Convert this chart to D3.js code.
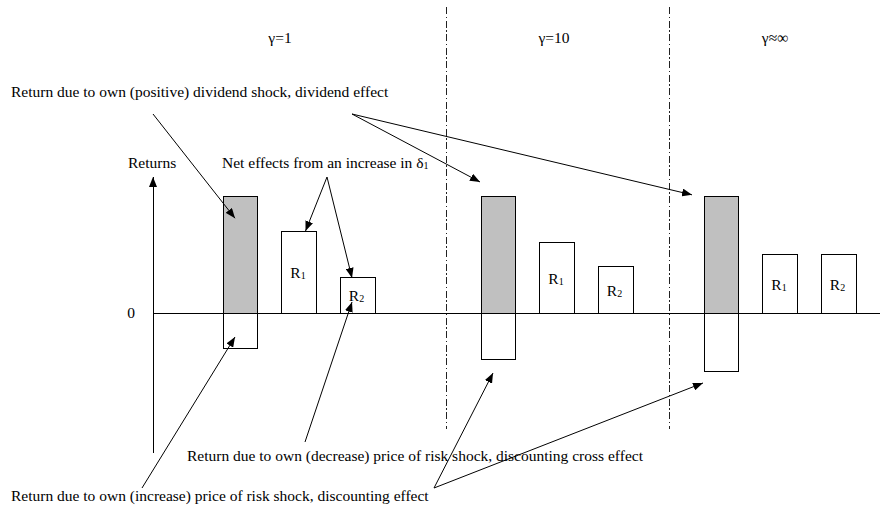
<!DOCTYPE html>
<html>
<head>
<meta charset="utf-8">
<title>Returns by risk aversion</title>
<script src="https://cdn.jsdelivr.net/npm/d3@7"></script>
<style>
  body { margin: 0; background: #fff; }
  svg { display: block; font-family: "Liberation Serif", "Times New Roman", serif; }
  .bar { stroke: #000; stroke-width: 1; shape-rendering: crispEdges; }
  .note { font-size: 15.5px; fill: #000; }
</style>
</head>
<body>
<script>
// three panels, one per risk aversion level
var gammas = ["γ=1", "γ=10", "γ≈∞"];
var dividendEffect = [10, 10, 10];     // own dividend shock (grey bar)
var discountEffect = [-3, -4, -5];     // own price of risk shock (below zero)
var netR1 = [7, 6, 5];
var netR2 = [3, 4, 5];
var slots = ["div", "R1", "R2"];

var width = 880, height = 514;
var svg = d3.select("body").append("svg").attr("width", width).attr("height", height);

var y = d3.scaleLinear().domain([0, 10]).range([313, 196]);
var groupX = d3.scaleOrdinal().domain(gammas).range([223, 481, 704]);
var inner = d3.scaleBand().domain(slots).range([0, 152]).paddingInner(0.402);

var defs = svg.append("defs");
defs.append("marker")
    .attr("id", "head")
    .attr("markerUnits", "userSpaceOnUse")
    .attr("markerWidth", 10).attr("markerHeight", 8)
    .attr("refX", 10).attr("refY", 4)
    .attr("orient", "auto")
  .append("path").attr("d", "M0,0L10,4L0,8z").attr("fill", "#000");

// bar rows
var rows = [];
gammas.forEach(function(g, i) {
    rows.push({g: g, slot: "div", v: dividendEffect[i], fill: "#c0c0c0"});
    rows.push({g: g, slot: "div", v: discountEffect[i], fill: "#fff"});
    rows.push({g: g, slot: "R1", v: netR1[i], fill: "#fff", label: "R", sub: "1"});
    rows.push({g: g, slot: "R2", v: netR2[i], fill: "#fff", label: "R", sub: "2"});
});

// panel separators
svg.selectAll(".sep")
    .data(gammas.slice(1))
  .enter().append("line")
    .attr("class", "sep")
    .attr("x1", function(g) { return groupX(g) - 34.5; })
    .attr("x2", function(g) { return groupX(g) - 34.5; })
    .attr("y1", 7).attr("y2", 429)
    .attr("stroke", "#222")
    .attr("shape-rendering", "crispEdges")
    .attr("stroke-dasharray", "7,2.5,1.5,2.5");

// panel titles
var titleOffset = d3.scaleOrdinal().domain(gammas).range([57, 73, 71]);
svg.selectAll(".title")
    .data(gammas)
  .enter().append("text")
    .attr("class", "note")
    .attr("x", function(g) { return groupX(g) + titleOffset(g); })
    .attr("y", 43)
    .attr("text-anchor", "middle")
    .text(function(g) { return g; });

// bars
svg.selectAll(".bar")
    .data(rows)
  .enter().append("rect")
    .attr("class", "bar")
    .attr("x", function(d) { return groupX(d.g) + inner(d.slot); })
    .attr("width", inner.bandwidth())
    .attr("y", function(d) { return y(Math.max(0, d.v)); })
    .attr("height", function(d) { return Math.abs(y(d.v) - y(0)); })
    .attr("fill", function(d) { return d.fill; });

var lab = svg.selectAll(".rlab")
    .data(rows.filter(function(d) { return d.label; }))
  .enter().append("text")
    .attr("class", "note")
    .attr("x", function(d) { return groupX(d.g) + inner(d.slot) + inner.bandwidth() / 2 - 1; })
    .attr("y", function(d) { return y(d.v / 2) + 6; })
    .attr("text-anchor", "middle");
lab.append("tspan").text(function(d) { return d.label; });
lab.append("tspan").attr("font-size", "10px").attr("dy", 1).text(function(d) { return d.sub; });

// zero line and returns axis
svg.append("line")
    .attr("x1", 153).attr("x2", width)
    .attr("y1", y(0)).attr("y2", y(0))
    .attr("stroke", "#000")
    .attr("shape-rendering", "crispEdges");
svg.append("line")
    .attr("x1", 153).attr("x2", 153)
    .attr("y1", y(-12)).attr("y2", y(11.63))
    .attr("stroke", "#000")
    .attr("shape-rendering", "crispEdges")
    .attr("marker-end", "url(#head)");

var axis = svg.append("g")
    .attr("transform", "translate(153,0)")
    .call(d3.axisLeft(y).tickValues([0]).tickSize(0).tickPadding(18));
axis.select(".domain").remove();
axis.selectAll("text")
    .attr("font-family", "Liberation Serif, Times New Roman, serif")
    .attr("font-size", "15.5px")
    .attr("fill", "#000");

svg.append("text").attr("class", "note").attr("x", 128).attr("y", 168).text("Returns");

// annotations
svg.append("text").attr("class", "note").attr("x", 11).attr("y", 97)
    .text("Return due to own (positive) dividend shock, dividend effect");
var net = svg.append("text").attr("class", "note").attr("x", 222).attr("y", 168);
net.append("tspan").text("Net effects from an increase in δ");
net.append("tspan").attr("font-size", "10px").attr("dy", 1).text("1");
svg.append("text").attr("class", "note").attr("x", 187).attr("y", 461)
    .text("Return due to own (decrease) price of risk shock, discounting cross effect");
svg.append("text").attr("class", "note").attr("x", 11).attr("y", 501)
    .text("Return due to own (increase) price of risk shock, discounting effect");

var g1 = gammas[0], g10 = gammas[1], gInf = gammas[2];
var arrows = [
    [153, 114, groupX(g1) + 12, y(8.1)],
    [352, 114, groupX(g10) - 1, y(11.2)],
    [352, 114, groupX(gInf) - 12, y(10.1)],
    [327, 177, groupX(g1) + inner("R1") + 24, y(netR1[0])],
    [327, 177, groupX(g1) + inner("R2") + 12, y(netR2[0])],
    [305, 442, groupX(g1) + inner("R2") + 12, y(0.94)],
    [142, 488, groupX(g1) + 12, y(-2.05)],
    [434, 488, groupX(g10) + 12, y(-5.13)],
    [434, 488, groupX(gInf) - 1, y(-5.98)]
];
svg.selectAll(".arrow")
    .data(arrows)
  .enter().append("line")
    .attr("class", "arrow")
    .attr("x1", function(d) { return d[0]; })
    .attr("y1", function(d) { return d[1]; })
    .attr("x2", function(d) { return d[2]; })
    .attr("y2", function(d) { return d[3]; })
    .attr("stroke", "#000")
    .attr("stroke-width", 1)
    .attr("marker-end", "url(#head)");
</script>
</body>
</html>
